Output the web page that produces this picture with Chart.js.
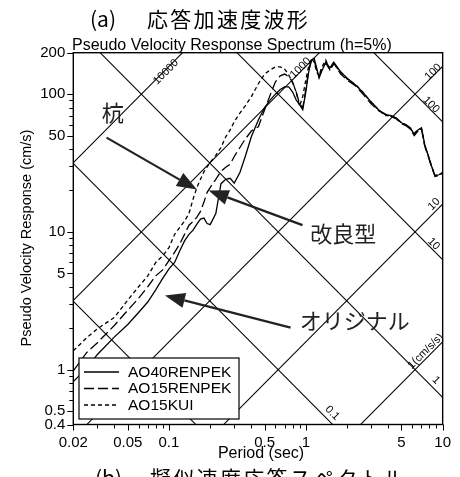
<!DOCTYPE html>
<html>
<head>
<meta charset="utf-8">
<script src="https://cdn.jsdelivr.net/npm/chart.js@4.4.0/dist/chart.umd.min.js"></script>
<style>
    html, body { margin: 0; padding: 0; background: #fff; overflow: hidden; }
</style>
</head>
<body>
<canvas id="spectrumChart" width="460" height="477"></canvas>
<script>
// Periodos (s) y espectros de pseudo velocidad (cm/s)
const periods = [0.02, 0.025, 0.03, 0.04, 0.05, 0.06, 0.07, 0.08, 0.09, 0.1,
    0.11, 0.12, 0.13, 0.14, 0.15, 0.16, 0.17, 0.18, 0.19, 0.2,
    0.22, 0.24, 0.26, 0.28, 0.3, 0.33, 0.36, 0.4, 0.45, 0.5,
    0.55, 0.6, 0.65, 0.7, 0.75, 0.8, 0.85, 0.9, 0.95, 1.0,
    1.05, 1.1, 1.15, 1.2, 1.25, 1.3, 1.4, 1.5, 1.6, 1.8,
    2.0, 2.3, 2.6, 3.0, 3.4, 3.8, 4.2, 4.6, 5.0, 5.4,
    5.8, 6.2, 6.6, 7.0, 7.4, 7.8, 8.3, 8.8, 9.4, 10];

const svAO40RENPEK = [0.82, 1.02, 1.29, 1.73, 2.13, 2.6, 3.1, 3.8, 4.6, 5.4,
    6.0, 7.3, 8.6, 9.6, 10.3, 11.4, 12.4, 12.6, 11.5, 11.3,
    13.6, 22.4, 24.1, 24.5, 22.6, 27, 35, 49, 65, 80,
    91, 100, 108, 113, 113, 104, 91, 84, 77, 104,
    145, 177, 182, 155, 131, 145, 171, 155, 171, 145,
    131, 117, 104, 88, 77, 71, 70, 67, 62, 60,
    57, 51, 55, 57, 43, 36.5, 30, 25.6, 26, 27];

const svAO15RENPEK = [0.98, 1.33, 1.57, 2.1, 2.7, 3.3, 4.0, 4.8, 5.3, 6.2,
    7.1, 8.2, 9.6, 11.2, 11.9, 12.8, 14.1, 16.4, 19.4, 21,
    24.1, 27.6, 29.5, 31, 35.3, 41, 47, 54, 58, 77,
    99, 123, 136, 140, 134, 123, 104, 85, 80, 108,
    150, 177, 177, 150, 134, 150, 168, 150, 168, 140,
    127, 115, 101, 85, 76, 72, 69, 66, 61, 59,
    56, 50, 54, 56, 42, 36, 29.5, 25.3, 25.6, 26.5];

const svAO15KUI = [1.37, 1.7, 1.98, 2.4, 3.2, 4.0, 4.8, 6.0, 6.7, 7.7,
    9.6, 10.8, 12, 13.6, 17.3, 21, 24.1, 27.3, 29.6, 32,
    36, 41, 49, 55, 63, 73, 82, 96, 119, 140,
    150, 158, 158, 152, 138, 121, 104, 82, 96, 127,
    160, 182, 171, 145, 136, 155, 177, 150, 165, 145,
    129, 118, 104, 87, 77, 70, 70, 66, 62, 60,
    56, 52, 55, 56, 42, 36.5, 30, 25.6, 26, 27];

const xTickLabels = [0.02, 0.05, 0.1, 0.5, 1, 5, 10];
const yTickLabels = [0.4, 0.5, 1, 5, 10, 50, 100, 200];
const xMinorTicks = [0.03, 0.04, 0.06, 0.07, 0.08, 0.09, 0.2, 0.3, 0.4, 0.6, 0.7, 0.8, 0.9, 2, 3, 4, 6, 7, 8, 9];
const yMinorTicks = [0.6, 0.7, 0.8, 0.9, 2, 3, 4, 6, 7, 8, 9, 20, 30, 40, 60, 70, 80, 90];

// Lineas diagonales: aceleracion (cm/s/s) y desplazamiento (cm)
const accelLines = [1, 10, 100, 1000, 10000];
const dispLines = [0.01, 0.1, 1, 10, 100];

const FONT = '"Liberation Sans", Arial, sans-serif';
const JP_FONT = '"Noto Sans CJK JP", sans-serif';
const TWO_PI = 2 * Math.PI;

// Etiquetas de las diagonales [texto, T, Sv, rotacion]
const diagLabels = [
    ['10000', 0.0951, 145, -45],
    ['1000', 0.916, 155, -45],
    ['100', 8.53, 145, -45],
    ['100', 8.24, 83.8, 45],
    ['10', 8.67, 15.9, -45],
    ['10', 8.6, 8.18, 45],
    ['1(cm/s/s)', 7.5, 1.36, -45],
    ['1', 8.96, 0.838, 45],
    ['0.1', 1.56, 0.484, 45]
];

// Notas con flecha [texto, T, Sv, desdeT, desdeSv, hastaT, hastaSv]
const notes = [
    ['杭', 0.0388, 73.4, 0.035, 48.4, 0.160, 20.3],
    ['改良型', 1.875, 9.66, 0.946, 11.2, 0.195, 20.0],
    ['オリジナル', 2.28, 2.27, 0.774, 2.02, 0.0935, 3.46]
];

function drawArrow(ctx, x1, y1, x2, y2) {
    const ang = Math.atan2(y2 - y1, x2 - x1);
    const len = 20, half = 7.5;
    const bx = x2 - len * Math.cos(ang), by = y2 - len * Math.sin(ang);
    ctx.beginPath();
    ctx.moveTo(x1, y1);
    ctx.lineTo(bx, by);
    ctx.stroke();
    ctx.beginPath();
    ctx.moveTo(x2, y2);
    ctx.lineTo(bx + half * Math.sin(ang), by - half * Math.cos(ang));
    ctx.lineTo(bx - half * Math.sin(ang), by + half * Math.cos(ang));
    ctx.closePath();
    ctx.fill();
}

const tripartite = {
    id: 'tripartite',
    beforeDatasetsDraw(chart) {
        const { ctx, chartArea: a, scales: { x, y } } = chart;
        ctx.save();
        ctx.beginPath();
        ctx.rect(a.left, a.top, a.right - a.left, a.bottom - a.top);
        ctx.clip();
        ctx.strokeStyle = '#000';
        ctx.lineWidth = 1.05;
        const t0 = 0.001, t1 = 100;
        accelLines.forEach(sa => {
            ctx.beginPath();
            ctx.moveTo(x.getPixelForValue(t0), y.getPixelForValue(sa * t0 / TWO_PI));
            ctx.lineTo(x.getPixelForValue(t1), y.getPixelForValue(sa * t1 / TWO_PI));
            ctx.stroke();
        });
        dispLines.forEach(sd => {
            ctx.beginPath();
            ctx.moveTo(x.getPixelForValue(t0), y.getPixelForValue(TWO_PI * sd / t0));
            ctx.lineTo(x.getPixelForValue(t1), y.getPixelForValue(TWO_PI * sd / t1));
            ctx.stroke();
        });
        ctx.restore();
    },
    afterDatasetsDraw(chart) {
        const { ctx, chartArea: a, scales: { x, y } } = chart;
        ctx.save();

        // etiquetas diagonales
        ctx.fillStyle = '#000';
        ctx.font = '11px ' + FONT;
        ctx.textAlign = 'center';
        ctx.textBaseline = 'middle';
        diagLabels.forEach(([txt, t, sv, rot]) => {
            ctx.save();
            ctx.translate(x.getPixelForValue(t), y.getPixelForValue(sv));
            ctx.rotate(rot * Math.PI / 180);
            ctx.fillText(txt, 0, 0);
            ctx.restore();
        });

        // marco y marcas
        ctx.strokeStyle = '#000';
        ctx.lineWidth = 1.4;
        ctx.strokeRect(a.left, a.top, a.right - a.left, a.bottom - a.top);
        ctx.lineWidth = 1;
        ctx.beginPath();
        xTickLabels.concat(xMinorTicks).forEach(v => {
            const px = Math.round(x.getPixelForValue(v)) + 0.5;
            const l = xTickLabels.includes(v) ? 6 : 4;
            ctx.moveTo(px, a.bottom);
            ctx.lineTo(px, a.bottom + l);
        });
        yTickLabels.concat(yMinorTicks).forEach(v => {
            const py = Math.round(y.getPixelForValue(v)) + 0.5;
            const l = yTickLabels.includes(v) ? 6 : 4;
            ctx.moveTo(a.left, py);
            ctx.lineTo(a.left - l, py);
        });
        ctx.stroke();

        // leyenda
        const lx = 79, ly = 358, lw = 160, lh = 61;
        ctx.fillStyle = '#fff';
        ctx.fillRect(lx, ly, lw, lh);
        ctx.strokeStyle = '#000';
        ctx.lineWidth = 1.2;
        ctx.strokeRect(lx, ly, lw, lh);
        ctx.font = '15.5px ' + FONT;
        ctx.textAlign = 'left';
        ctx.textBaseline = 'middle';
        chart.data.datasets.forEach((ds, i) => {
            const yy = ly + 14 + i * 16.5;
            ctx.setLineDash(ds.borderDash || []);
            ctx.lineWidth = ds.borderWidth;
            ctx.beginPath();
            ctx.moveTo(lx + 5, yy);
            ctx.lineTo(lx + 40, yy);
            ctx.stroke();
            ctx.setLineDash([]);
            ctx.fillStyle = '#000';
            ctx.fillText(ds.label, lx + 49, yy + 0.5);
        });

        // notas con flechas
        ctx.fillStyle = '#222';
        ctx.strokeStyle = '#222';
        ctx.lineWidth = 2.2;
        ctx.font = '22px ' + JP_FONT;
        ctx.textAlign = 'center';
        notes.forEach(([txt, t, sv, t1, s1, t2, s2]) => {
            ctx.fillText(txt, x.getPixelForValue(t), y.getPixelForValue(sv));
            drawArrow(ctx, x.getPixelForValue(t1), y.getPixelForValue(s1),
                x.getPixelForValue(t2), y.getPixelForValue(s2));
        });

        // titulos
        ctx.fillStyle = '#000';
        ctx.textBaseline = 'alphabetic';
        ctx.textAlign = 'left';
        ctx.font = '16px ' + FONT;
        ctx.fillText('Pseudo Velocity Response Spectrum (h=5%)', 72, 50);
        ctx.textAlign = 'center';
        ctx.fillText('Period (sec)', 261, 458);
        ctx.save();
        ctx.translate(31, 238);
        ctx.rotate(-Math.PI / 2);
        ctx.font = '14.5px ' + FONT;
        ctx.fillText('Pseudo Velocity Response (cm/s)', 0, 0);
        ctx.restore();

        ctx.font = '21px ' + JP_FONT;
        ctx.textAlign = 'left';
        ctx.fillText('(a)', 90, 27);
        Array.from('応答加速度波形').forEach((ch, i) => ctx.fillText(ch, 147 + i * 23.3, 27));
        ctx.fillText('(b)', 95, 486);
        Array.from('擬似速度応答スペクトル').forEach((ch, i) => ctx.fillText(ch, 150 + i * 23.3, 486));
        ctx.restore();
    }
};

const makeSeries = vals => periods.map((t, i) => ({ x: t, y: vals[i] }));

new Chart(document.getElementById('spectrumChart'), {
    type: 'scatter',
    data: {
        datasets: [
            {
                label: 'AO40RENPEK',
                data: makeSeries(svAO40RENPEK),
                borderColor: '#000',
                borderWidth: 1.3,
                borderDash: []
            },
            {
                label: 'AO15RENPEK',
                data: makeSeries(svAO15RENPEK),
                borderColor: '#000',
                borderWidth: 1.3,
                borderDash: [10, 4]
            },
            {
                label: 'AO15KUI',
                data: makeSeries(svAO15KUI),
                borderColor: '#000',
                borderWidth: 1.3,
                borderDash: [4, 3]
            }
        ]
    },
    options: {
        responsive: false,
        animation: false,
        devicePixelRatio: 1,
        showLine: true,
        elements: {
            point: { radius: 0 },
            line: { tension: 0 }
        },
        layout: {
            padding: { top: 52.7, right: 13.3, left: 0, bottom: 0 }
        },
        plugins: {
            legend: { display: false },
            tooltip: { enabled: false }
        },
        scales: {
            x: {
                type: 'logarithmic',
                min: 0.02,
                max: 10,
                afterBuildTicks: scale => { scale.ticks = xTickLabels.map(v => ({ value: v })); },
                afterFit: scale => { scale.height = 52.5; },
                grid: { display: false, drawTicks: false },
                border: { display: false },
                ticks: {
                    autoSkip: false,
                    maxRotation: 0,
                    padding: 9,
                    color: '#000',
                    font: { family: FONT, size: 15 },
                    callback: v => String(v)
                }
            },
            y: {
                type: 'logarithmic',
                min: 0.4,
                max: 200,
                afterBuildTicks: scale => { scale.ticks = yTickLabels.map(v => ({ value: v })); },
                afterFit: scale => { scale.width = 73.3; },
                grid: { display: false, drawTicks: false },
                border: { display: false },
                ticks: {
                    autoSkip: false,
                    padding: 8,
                    color: '#000',
                    font: { family: FONT, size: 15 },
                    callback: v => String(v)
                }
            }
        }
    },
    plugins: [tripartite]
});
</script>
</body>
</html>
